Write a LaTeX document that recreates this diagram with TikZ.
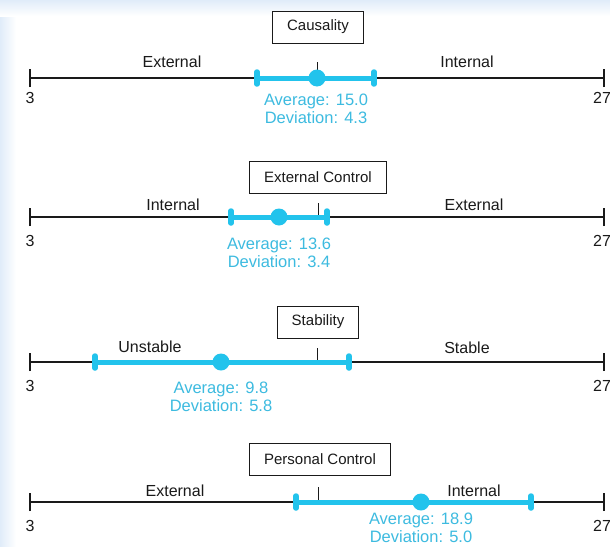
\documentclass[tikz,border=0pt]{standalone}
\usepackage{fontspec}
\setmainfont{Liberation Sans}
\definecolor{barblue}{HTML}{22C3EC}
\definecolor{txtblue}{HTML}{3DBBE0}
\definecolor{edgeblue}{HTML}{E0ECF9}
\definecolor{ink}{HTML}{1A1A1A}
\tikzset{
  axisline/.style={draw=ink, line width=2pt},
  endtick/.style={draw=ink, line width=2pt},
  midtick/.style={draw=ink, line width=0.8pt},
  bar/.style={draw=barblue, line width=5pt},
  barcap/.style={draw=barblue, line width=5.5pt, line cap=round},
  dot/.style={circle, fill=barblue, minimum size=17pt, inner sep=0pt},
  titlebox/.style={draw=ink, line width=0.8pt, fill=white, font=\fontsize{15}{18}\selectfont, inner xsep=14.5pt, minimum height=32pt, text=ink},
  lbl/.style={font=\fontsize{16}{18}\selectfont, text=ink, inner sep=0pt},
  stat/.style={font=\fontsize{16.5}{18}\selectfont, text=txtblue, inner sep=0pt, align=center},
}
\begin{document}
\begin{tikzpicture}[x=1pt,y=-1pt]
\useasboundingbox (0,0) rectangle (610,546);
\fill[white] (0,0) rectangle (610,546);
\shade[left color=edgeblue, right color=white] (0,0) rectangle (16,546);
\shade[top color=edgeblue, bottom color=white] (0,0) rectangle (610,16);
\fill[white] (16,16) rectangle (610,546);

% ---------- Panel 1: Causality ----------
\node[titlebox] (t1) at (318,27) {Causality};
\coordinate (a1l) at (30,78); \coordinate (a1r) at (604,78);
\coordinate (m1) at (317,78); \coordinate (m1t) at (317,62);
\coordinate (b1l) at (257,78); \coordinate (b1r) at (374,78);
\draw[axisline] (a1l) -- (a1r);
\draw[endtick] ([yshift=-9pt]a1l) -- ([yshift=9pt]a1l);
\draw[endtick] ([yshift=-9pt]a1r) -- ([yshift=9pt]a1r);
\draw[midtick] (m1t) -- (m1);
\draw[bar] (b1l) -- (b1r);
\draw[barcap] ([yshift=-6pt]b1l) -- ([yshift=6pt]b1l);
\draw[barcap] ([yshift=-6pt]b1r) -- ([yshift=6pt]b1r);
\node[dot] (d1) at (317,78) {};
\node[lbl] (l1) at (172,62) {External};
\node[lbl] (r1) at (467,62) {Internal};
\node[lbl] (n1l) at (30,98) {3};
\node[lbl] (n1r) at (602,98) {27};
\node[stat] (s1) at (316,109) {Average: 15.0\\Deviation: 4.3};

% ---------- Panel 2: External Control ----------
\node[titlebox] (t2) at (318,177) {External Control};
\coordinate (a2l) at (30,217); \coordinate (a2r) at (604,217);
\coordinate (m2) at (318,217); \coordinate (m2t) at (318,203);
\coordinate (b2l) at (231,217); \coordinate (b2r) at (327,217);
\draw[axisline] (a2l) -- (a2r);
\draw[endtick] ([yshift=-9pt]a2l) -- ([yshift=9pt]a2l);
\draw[endtick] ([yshift=-9pt]a2r) -- ([yshift=9pt]a2r);
\draw[midtick] (m2t) -- (m2);
\draw[bar] (b2l) -- (b2r);
\draw[barcap] ([yshift=-6pt]b2l) -- ([yshift=6pt]b2l);
\draw[barcap] ([yshift=-6pt]b2r) -- ([yshift=6pt]b2r);
\node[dot] (d2) at (279,217) {};
\node[lbl] (l2) at (173,205) {Internal};
\node[lbl] (r2) at (474,205) {External};
\node[lbl] (n2l) at (30,241) {3};
\node[lbl] (n2r) at (602,241) {27};
\node[stat] (s2) at (279,253) {Average: 13.6\\Deviation: 3.4};

% ---------- Panel 3: Stability ----------
\node[titlebox] (t3) at (318,322) {Stability};
\coordinate (a3l) at (30,362); \coordinate (a3r) at (604,362);
\coordinate (m3) at (317,362); \coordinate (m3t) at (317,348);
\coordinate (b3l) at (95,362); \coordinate (b3r) at (349,362);
\draw[axisline] (a3l) -- (a3r);
\draw[endtick] ([yshift=-9pt]a3l) -- ([yshift=9pt]a3l);
\draw[endtick] ([yshift=-9pt]a3r) -- ([yshift=9pt]a3r);
\draw[midtick] (m3t) -- (m3);
\draw[bar] (b3l) -- (b3r);
\draw[barcap] ([yshift=-6pt]b3l) -- ([yshift=6pt]b3l);
\draw[barcap] ([yshift=-6pt]b3r) -- ([yshift=6pt]b3r);
\node[dot] (d3) at (221,362) {};
\node[lbl] (l3) at (150,347) {Unstable};
\node[lbl] (r3) at (467,348) {Stable};
\node[lbl] (n3l) at (30,386) {3};
\node[lbl] (n3r) at (602,386) {27};
\node[stat] (s3) at (221,397) {Average: 9.8\\Deviation: 5.8};

% ---------- Panel 4: Personal Control ----------
\node[titlebox] (t4) at (320,459) {Personal Control};
\coordinate (a4l) at (30,502); \coordinate (a4r) at (604,502);
\coordinate (m4) at (318,502); \coordinate (m4t) at (318,487);
\coordinate (b4l) at (296,502); \coordinate (b4r) at (531,502);
\draw[axisline] (a4l) -- (a4r);
\draw[endtick] ([yshift=-9pt]a4l) -- ([yshift=9pt]a4l);
\draw[endtick] ([yshift=-9pt]a4r) -- ([yshift=9pt]a4r);
\draw[midtick] (m4t) -- (m4);
\draw[bar] (b4l) -- (b4r);
\draw[barcap] ([yshift=-6pt]b4l) -- ([yshift=6pt]b4l);
\draw[barcap] ([yshift=-6pt]b4r) -- ([yshift=6pt]b4r);
\node[dot] (d4) at (421,502) {};
\node[lbl] (l4) at (175,491) {External};
\node[lbl] (r4) at (474,491) {Internal};
\node[lbl] (n4l) at (30,526) {3};
\node[lbl] (n4r) at (602,526) {27};
\node[stat] (s4) at (421,528) {Average: 18.9\\Deviation: 5.0};
\end{tikzpicture}
\end{document}
